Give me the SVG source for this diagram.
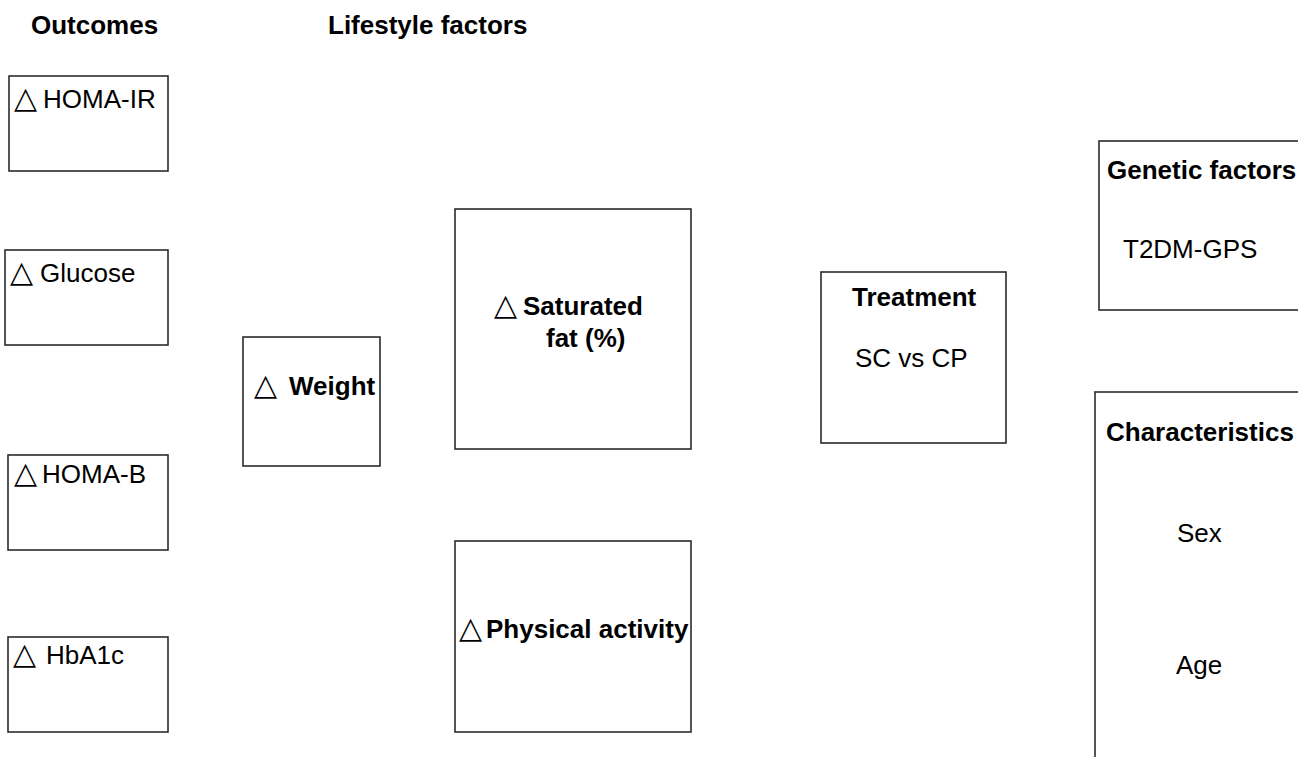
<svg xmlns="http://www.w3.org/2000/svg" width="1298" height="757" viewBox="0 0 1298 757">
<style>
  .box { fill: #ffffff; stroke: #2b2b2b; stroke-width: 1.6; }
  .t { font-family: "Liberation Sans", Arial, sans-serif; font-size: 26px; fill: #000000; }
  .b { font-weight: bold; }
  .tri { font-family: "DejaVu Sans", sans-serif; font-weight: normal; font-size: 30px; }
</style>
<rect x="0" y="0" width="1298" height="757" fill="#ffffff"/>

<g id="headers">
  <text class="t b" x="31" y="34">Outcomes</text>
  <text class="t b" x="328" y="34">Lifestyle factors</text>
</g>

<g id="homa-ir">
  <rect class="box" x="9" y="76" width="159" height="95"/>
  <text class="t" y="108"><tspan class="tri" x="14">△</tspan><tspan x="43">HOMA-IR</tspan></text>
</g>

<g id="glucose">
  <rect class="box" x="5" y="250" width="163" height="95"/>
  <text class="t" y="282"><tspan class="tri" x="10">△</tspan><tspan x="40">Glucose</tspan></text>
</g>

<g id="homa-b">
  <rect class="box" x="8" y="455" width="160" height="95"/>
  <text class="t" y="483"><tspan class="tri" x="14">△</tspan><tspan x="42">HOMA-B</tspan></text>
</g>

<g id="hba1c">
  <rect class="box" x="8" y="637" width="160" height="95"/>
  <text class="t" y="664"><tspan class="tri" x="13">△</tspan><tspan x="46">HbA1c</tspan></text>
</g>

<g id="weight">
  <rect class="box" x="243" y="337" width="137" height="129"/>
  <text class="t b" y="395"><tspan class="tri" x="254">△</tspan><tspan x="289">Weight</tspan></text>
</g>

<g id="saturated-fat">
  <rect class="box" x="455" y="209" width="236" height="240"/>
  <text class="t b" y="315"><tspan class="tri" x="494">△</tspan><tspan x="523">Saturated</tspan><tspan x="546" y="347">fat (%)</tspan></text>
</g>

<g id="physical-activity">
  <rect class="box" x="455" y="541" width="236" height="191"/>
  <text class="t b" y="638"><tspan class="tri" x="459">△</tspan><tspan x="486">Physical activity</tspan></text>
</g>

<g id="treatment">
  <rect class="box" x="821" y="272" width="185" height="171"/>
  <text class="t b" x="852" y="306">Treatment</text>
  <text class="t" x="855" y="367">SC vs CP</text>
</g>

<g id="genetic-factors">
  <rect class="box" x="1099" y="141" width="260" height="169"/>
  <text class="t b" x="1107" y="179">Genetic factors</text>
  <text class="t" x="1123" y="258">T2DM-GPS</text>
</g>

<g id="characteristics">
  <rect class="box" x="1095" y="392" width="260" height="420"/>
  <text class="t b" x="1106" y="441">Characteristics</text>
  <text class="t" x="1177" y="542">Sex</text>
  <text class="t" x="1176" y="674">Age</text>
</g>

<g id="connectors"></g>
</svg>
